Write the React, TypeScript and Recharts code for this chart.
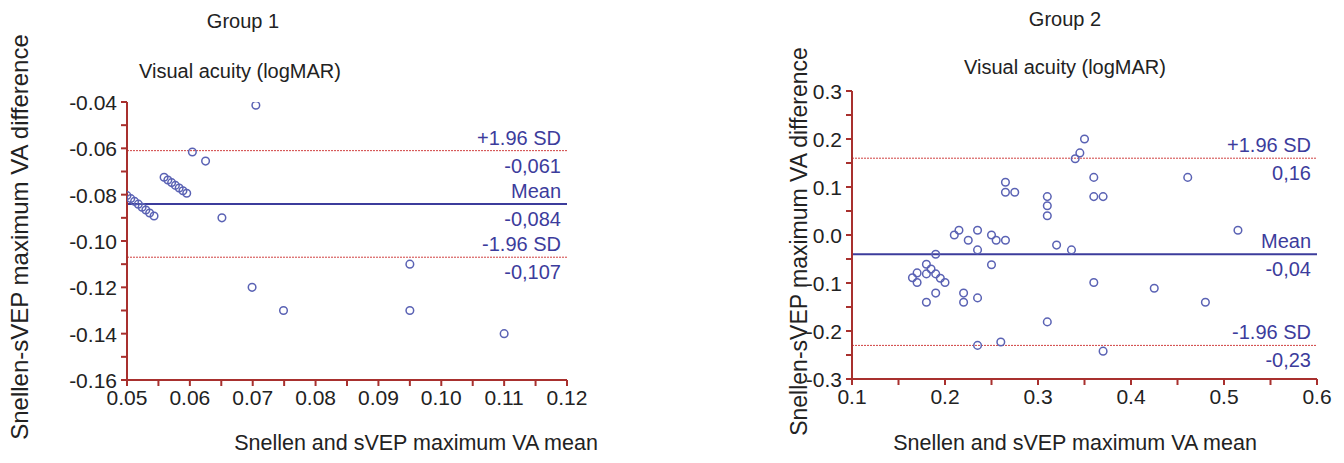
import React from 'react';
import { ScatterChart, Scatter, XAxis, YAxis, ReferenceLine } from 'recharts';

// Group 1 (x = mean, y = difference)
const g1x = [0.05, 0.0506, 0.0512, 0.0518, 0.0524, 0.053, 0.0536, 0.0543, 0.0559, 0.0565, 0.0571, 0.0577, 0.0583, 0.0589, 0.0595, 0.0604, 0.0625, 0.0651, 0.0705, 0.0699, 0.0749, 0.095, 0.095, 0.11];
const g1y = [-0.0804, -0.0817, -0.0829, -0.0841, -0.0854, -0.0866, -0.0879, -0.0892, -0.0725, -0.0737, -0.0748, -0.076, -0.0771, -0.0783, -0.0794, -0.0616, -0.0655, -0.09, -0.0414, -0.12, -0.13, -0.11, -0.13, -0.14];
const g1Lines = { upper: -0.061, mean: -0.084, lower: -0.107 };
const g1XTicks = [0.05, 0.055, 0.06, 0.065, 0.07, 0.075, 0.08, 0.085, 0.09, 0.095, 0.1, 0.105, 0.11, 0.115, 0.12];
const g1YTicks = [-0.16, -0.15, -0.14, -0.13, -0.12, -0.11, -0.1, -0.09, -0.08, -0.07, -0.06, -0.05, -0.04];

// Group 2
const g2x = [0.35, 0.345, 0.34, 0.36, 0.36, 0.37, 0.461, 0.265, 0.265, 0.275, 0.31, 0.31, 0.31, 0.515, 0.21, 0.215, 0.225, 0.235, 0.235, 0.25, 0.255, 0.265, 0.32, 0.336, 0.19, 0.25, 0.18, 0.185, 0.17, 0.18, 0.19, 0.165, 0.195, 0.17, 0.2, 0.36, 0.425, 0.19, 0.22, 0.18, 0.22, 0.235, 0.48, 0.31, 0.26, 0.235, 0.37];
const g2y = [0.2, 0.171, 0.159, 0.12, 0.08, 0.08, 0.12, 0.11, 0.089, 0.089, 0.08, 0.061, 0.04, 0.01, 0.0, 0.01, -0.011, 0.01, -0.031, 0.0, -0.011, -0.011, -0.021, -0.031, -0.04, -0.062, -0.061, -0.071, -0.079, -0.081, -0.081, -0.089, -0.09, -0.099, -0.099, -0.099, -0.111, -0.121, -0.121, -0.14, -0.14, -0.131, -0.14, -0.181, -0.223, -0.23, -0.242];
const g2Lines = { upper: 0.16, mean: -0.04, lower: -0.23 };
const g2XTicks = [0.1, 0.15, 0.2, 0.25, 0.3, 0.35, 0.4, 0.45, 0.5, 0.55, 0.6];
const g2YTicks = [-0.3, -0.25, -0.2, -0.15, -0.1, -0.05, 0, 0.05, 0.1, 0.15, 0.2, 0.25, 0.3];

const AXIS = '#a8302e';
const BLUE = '#3c3c9c';
const FONT = '"Liberation Sans", Arial, sans-serif';

const isMajor = (v: number, step: number) => Math.abs(v / step - Math.round(v / step)) < 1e-6;

const makeXTick = (step: number, dec: number) => (props: any) => {
  const { x, y, payload } = props;
  if (!isMajor(payload.value, step)) return <g />;
  return (
    <text x={x} y={y + 17} textAnchor="middle" style={{ fontSize: 21, fontFamily: FONT }} fill="#222">
      {payload.value.toFixed(dec)}
    </text>
  );
};

const makeYTick = (step: number, dec: number) => (props: any) => {
  const { x, y, payload } = props;
  if (!isMajor(payload.value, step)) return <g />;
  return (
    <text x={x - 2} y={y + 8} textAnchor="end" style={{ fontSize: 21, fontFamily: FONT }} fill="#222">
      {(Math.abs(payload.value) < 1e-9 ? 0 : payload.value).toFixed(dec)}
    </text>
  );
};

const lineLabel = (top: string, bottom: string) => (props: any) => {
  const { viewBox } = props;
  const x = viewBox.x + viewBox.width - 6;
  return (
    <g style={{ fontFamily: FONT, fontSize: 20 }} fill={BLUE} textAnchor="end">
      <text x={x} y={viewBox.y - 6}>{top}</text>
      <text x={x} y={viewBox.y + 22}>{bottom}</text>
    </g>
  );
};

const ring = (props: any) => <circle cx={props.cx} cy={props.cy} r={3.8} fill="none" stroke="#5a62b4" strokeWidth={1.5} />;

function Panel(props: any) {
  const { xs, ys, lines, xTicks, yTicks, xDom, yDom, xStep, xDec, yStep, yDec, left, width, margin, upperText, meanText, lowerText } = props;
  const data = xs.map((x: number, i: number) => ({ x, y: ys[i] }));
  const tl = { stroke: AXIS, strokeWidth: 2 };
  return (
    <div style={{ position: 'absolute', left, top: 0 }}>
      <ScatterChart width={width} height={463} margin={margin}>
        <XAxis type="number" dataKey="x" domain={xDom} ticks={xTicks} interval={0} stroke={AXIS} strokeWidth={2}
          tickLine={tl} tickSize={6} tick={makeXTick(xStep, xDec)} height={30} allowDataOverflow />
        <YAxis type="number" dataKey="y" domain={yDom} ticks={yTicks} interval={0} stroke={AXIS} strokeWidth={2}
          tickLine={tl} tickSize={6} tick={makeYTick(yStep, yDec)} width={60} allowDataOverflow />
        <ReferenceLine y={lines.upper} stroke="#d04040" strokeDasharray="2 1" label={lineLabel('+1.96 SD', upperText)} />
        <ReferenceLine y={lines.mean} stroke={BLUE} strokeWidth={2} label={lineLabel('Mean', meanText)} />
        <ReferenceLine y={lines.lower} stroke="#d04040" strokeDasharray="2 1" label={lineLabel('-1.96 SD', lowerText)} />
        <Scatter data={data} shape={ring} isAnimationActive={false} />
      </ScatterChart>
    </div>
  );
}

const txt = (x: number, y: number, s: string, extra: any = {}) => (
  <div style={{ position: 'absolute', left: x - 300, top: y - 12, width: 600, textAlign: 'center', fontFamily: FONT, fontSize: 20, color: '#222', ...extra }}>{s}</div>
);

export default function App() {
  return (
    <div style={{ position: 'absolute', left: 0, top: 0, width: 1344, height: 463, background: '#fff', overflow: 'hidden' }}>
      <Panel xs={g1x} ys={g1y} lines={g1Lines} xTicks={g1XTicks} yTicks={g1YTicks} xDom={[0.05, 0.12]} yDom={[-0.16, -0.04]}
        xStep={0.01} xDec={2} yStep={0.02} yDec={2} left={0} width={620}
        margin={{ top: 102, bottom: 53, left: 67, right: 53 }}
        upperText="-0,061" meanText="-0,084" lowerText="-0,107" />
      <Panel xs={g2x} ys={g2y} lines={g2Lines} xTicks={g2XTicks} yTicks={g2YTicks} xDom={[0.1, 0.6]} yDom={[-0.3, 0.3]}
        xStep={0.1} xDec={1} yStep={0.1} yDec={1} left={690} width={654}
        margin={{ top: 91, bottom: 54, left: 102, right: 27 }}
        upperText="0,16" meanText="-0,04" lowerText="-0,23" />
      {txt(243, 22, 'Group 1')}
      {txt(240, 72, 'Visual acuity (logMAR)')}
      {txt(1065, 20, 'Group 2')}
      {txt(1065, 68, 'Visual acuity (logMAR)')}
      {txt(416, 443, 'Snellen and sVEP maximum VA mean', { fontSize: 21.5 })}
      {txt(1075, 443, 'Snellen and sVEP maximum VA mean', { fontSize: 21.5 })}
      {txt(20, 235, 'Snellen-sVEP maximum VA difference', { transform: 'rotate(-90deg)', fontSize: 24 })}
      {txt(799, 240, 'Snellen-sVEP maximum VA difference', { transform: 'rotate(-90deg)', fontSize: 23 })}
    </div>
  );
}
